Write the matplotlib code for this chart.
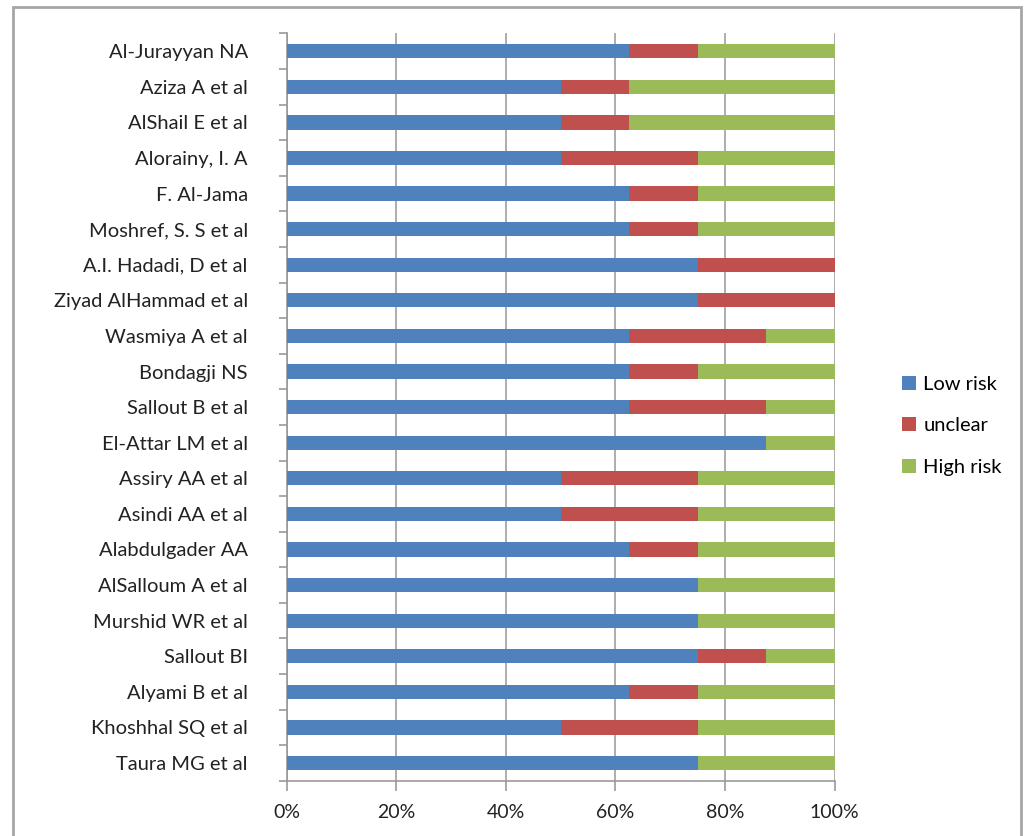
import numpy as np
import matplotlib.pyplot as plt
from matplotlib.patches import Rectangle

plt.rcParams['font.family'] = ['Lato', 'DejaVu Sans']

# studies, top to bottom
studies = ['Al-Jurayyan NA', 'Aziza A et al', 'AlShail E et al', 'Alorainy, I. A',
           'F. Al-Jama', 'Moshref, S. S et al', 'A.I. Hadadi, D et al',
           'Ziyad AlHammad et al', 'Wasmiya A et al', 'Bondagji NS',
           'Sallout B et al', 'El-Attar LM et al', 'Assiry AA et al',
           'Asindi AA et al', 'Alabdulgader AA', 'AlSalloum A et al',
           'Murshid WR et al', 'Sallout BI', 'Alyami B et al',
           'Khoshhal SQ et al', 'Taura MG et al']
low = [62.5, 50, 50, 50, 62.5, 62.5, 75, 75, 62.5, 62.5, 62.5, 87.5, 50, 50,
       62.5, 75, 75, 75, 62.5, 50, 75]
unclear = [12.5, 12.5, 12.5, 25, 12.5, 12.5, 25, 25, 25, 12.5, 25, 0, 25, 25,
           12.5, 0, 0, 12.5, 12.5, 25, 0]
high = [25, 37.5, 37.5, 25, 25, 25, 0, 0, 12.5, 25, 12.5, 12.5, 25, 25,
        25, 25, 25, 12.5, 25, 25, 25]
series = ['Low risk', 'unclear', 'High risk']
colors = ['#4F81BD', '#C0504D', '#9BBB59']
ticks = ['0%', '20%', '40%', '60%', '80%', '100%']

fig = plt.figure(figsize=(10.24, 8.36), dpi=100)
ax = fig.add_axes([0.280, 0.066, 0.535, 0.894])

# figure border
fig.patches.append(Rectangle((13 / 1024, -0.01), (1021 - 13) / 1024, 1 - 7 / 836 + 0.01,
                             transform=fig.transFigure, fill=False,
                             edgecolor='#a6a6a6', linewidth=2))

y = np.arange(len(studies))
left = np.zeros(len(studies))
for vals, name, c in zip([low, unclear, high], series, colors):
    vals = np.array(vals)
    ax.barh(y, vals, left=left, height=0.4, color=c, label=name, zorder=3)
    left += vals

ax.set_ylim(len(studies) - 0.5, -0.5)
ax.set_xlim(0, 100)
ax.set_xticks(np.arange(0, 101, 20))
ax.set_xticklabels(ticks, fontsize=14, color='#222222')
ax.set_yticks(y)
ax.set_yticklabels(studies, fontsize=14.5, color='#222222')
ax.tick_params(axis='y', length=0, pad=28)
ax.tick_params(axis='x', length=7, color='#999999', width=1.2, pad=10)
# small ticks between categories on y axis
ax.set_yticks(np.arange(-0.5, len(studies), 1), minor=True)
ax.tick_params(axis='y', which='minor', length=6, color='#999999', width=1.2)

ax.grid(axis='x', color='#a0a0a0', linewidth=1.2, zorder=0)
for s in ['top', 'right']:
    ax.spines[s].set_visible(False)
ax.spines['left'].set_color('#999999')
ax.spines['bottom'].set_color('#999999')
ax.spines['left'].set_linewidth(1.2)
ax.spines['bottom'].set_linewidth(1.2)

leg = ax.legend(loc='center left', bbox_to_anchor=(1.09, 0.475), frameon=False,
                fontsize=14.5, handlelength=0.7, handleheight=0.7,
                handletextpad=0.35, labelspacing=1.2)

fig.savefig('out.png', dpi=100)
